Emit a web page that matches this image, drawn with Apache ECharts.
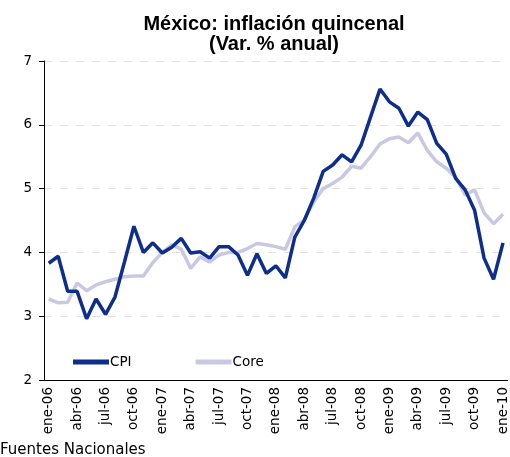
<!DOCTYPE html>
<html>
<head>
<meta charset="utf-8">
<script src="https://cdn.jsdelivr.net/npm/echarts@6/dist/echarts.min.js"></script>
<style>html,body{margin:0;padding:0;background:#fff}#c{width:510px;height:457px}</style>
</head>
<body>
<div id="c"></div>
<script>
var categories = ['ene-06','feb-06','mar-06','abr-06','may-06','jun-06','jul-06','ago-06','sep-06','oct-06','nov-06','dic-06',
'ene-07','feb-07','mar-07','abr-07','may-07','jun-07','jul-07','ago-07','sep-07','oct-07','nov-07','dic-07',
'ene-08','feb-08','mar-08','abr-08','may-08','jun-08','jul-08','ago-08','sep-08','oct-08','nov-08','dic-08',
'ene-09','feb-09','mar-09','abr-09','may-09','jun-09','jul-09','ago-09','sep-09','oct-09','nov-09','dic-09','ene-10'];
var cpi = [3.83,3.94,3.39,3.39,2.96,3.27,3.03,3.30,3.85,4.41,4.00,4.15,
3.99,4.08,4.22,3.99,4.01,3.91,4.09,4.09,3.96,3.64,3.98,3.67,
3.79,3.60,4.24,4.50,4.85,5.27,5.37,5.53,5.42,5.68,6.12,6.56,
6.36,6.26,5.98,6.20,6.08,5.71,5.54,5.16,4.98,4.66,3.91,3.58,4.15];
var core = [3.27,3.21,3.22,3.52,3.40,3.49,3.54,3.58,3.62,3.63,3.63,3.84,
4.00,4.12,4.05,3.75,3.93,3.85,3.96,4.00,4.00,4.06,4.14,4.12,
4.09,4.05,4.40,4.51,4.79,5.00,5.08,5.18,5.35,5.32,5.50,5.70,
5.78,5.81,5.72,5.87,5.60,5.42,5.32,5.18,4.90,4.98,4.62,4.45,4.60];
var yTicks = [2,3,4,5,6,7];

var chart = echarts.init(document.getElementById('c'));
chart.setOption({
  animation: false,
  backgroundColor: '#fff',
  title: {
    text: 'México: inflación quincenal\n(Var. % anual)',
    left: 269, top: 9, textAlign: 'center',
    textStyle: {fontFamily: 'Liberation Sans', fontWeight: 'bold', fontSize: 20, lineHeight: 20, color: '#000'}
  },
  graphic: [{
    type: 'text', left: 0, top: 443,
    style: {text: 'Fuentes Nacionales', fontFamily: 'DejaVu Sans', fontSize: 15, fill: '#000'}
  }],
  legend: {
    left: 68, top: 350, itemGap: 64, itemWidth: 36, itemHeight: 5, icon: 'rect',
    textStyle: {fontFamily: 'DejaVu Sans', fontSize: 13.5, color: '#000', padding: [0,0,0,-4]},
    data: ['CPI','Core']
  },
  grid: {left: 44, right: 1, top: 61, bottom: 77, containLabel: false},
  xAxis: {
    type: 'category', data: categories, boundaryGap: true,
    axisLine: {lineStyle: {color: '#000', width: 1}},
    axisTick: {interval: 2, length: 5, lineStyle: {color: '#000'}},
    axisLabel: {interval: 2, rotate: 90, fontFamily: 'DejaVu Sans', fontSize: 13.5, color: '#000', margin: 7},
    splitLine: {show: false}
  },
  yAxis: {
    type: 'value', min: yTicks[0], max: yTicks[yTicks.length-1], interval: 1,
    axisLine: {show: true, lineStyle: {color: '#000', width: 1}},
    axisTick: {show: true, length: 5, lineStyle: {color: '#000'}},
    axisLabel: {fontFamily: 'DejaVu Sans', fontSize: 13.5, color: '#000', margin: 12},
    splitLine: {show: true, lineStyle: {color: '#e2e2e2', type: [8, 8], width: 1}}
  },
  series: [
    {name: 'CPI', type: 'line', data: cpi, symbol: 'none', z: 3,
     lineStyle: {color: '#0d2e8c', width: 3.5}, itemStyle: {color: '#0d2e8c'}},
    {name: 'Core', type: 'line', data: core, symbol: 'none', z: 2,
     lineStyle: {color: '#c9c8e2', width: 3.5}, itemStyle: {color: '#c9c8e2'}}
  ]
});
</script>
</body>
</html>
